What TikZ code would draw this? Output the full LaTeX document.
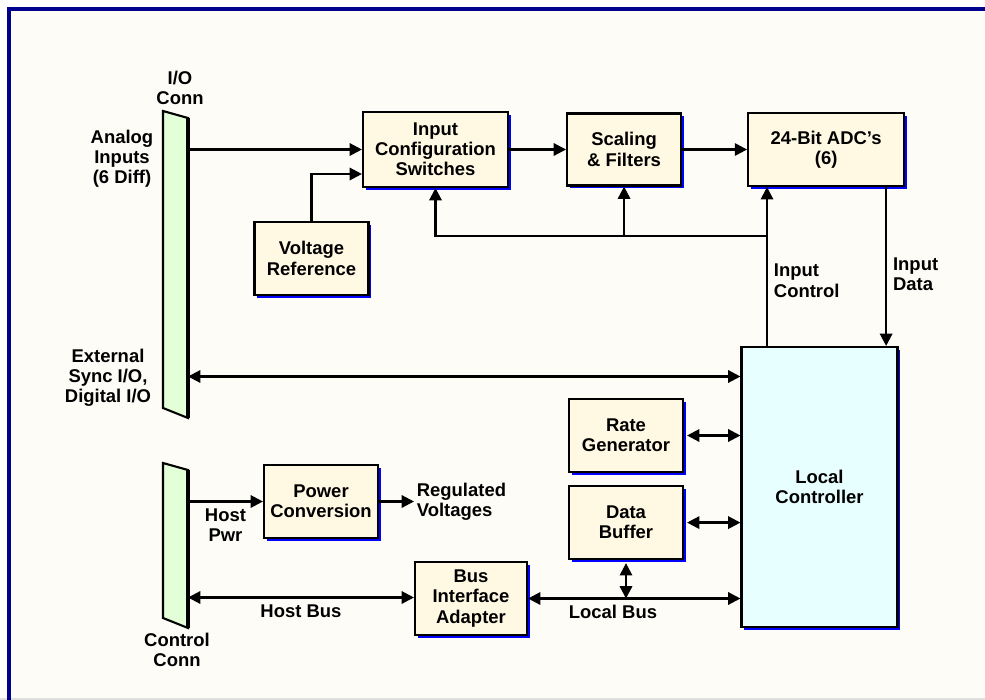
\documentclass[tikz,border=0pt]{standalone}
\usepackage{fontspec}
\setmainfont{Liberation Sans}
\usepackage{tikz}
\usetikzlibrary{shapes, arrows.meta, positioning, shadows}
\definecolor{paper}{HTML}{FDFCF6}
\definecolor{frameblue}{HTML}{00008C}
\definecolor{boxfill}{HTML}{FFF9E3}
\definecolor{connfill}{HTML}{E2FFD8}
\definecolor{ctrlfill}{HTML}{E8FFFF}
\tikzset{x=0.02cm, y=-0.02cm,     % One unit is one pixel of the drawing, y runs down
         >={Triangle[length=7pt, width=7pt]}, % Filled arrow heads
         block/.style={       % Sets the properties for each box
           draw,
           line width=1.2pt,
           fill=boxfill,
           align=center,
           minimum width=2.28cm,
           minimum height=1.46cm,
           font=\bfseries\fontsize{10.5}{11.5}\selectfont,
           drop shadow={shadow xshift=1.6pt, shadow yshift=-1.6pt, fill=blue, opacity=1}},
         lbl/.style={         % Free text beside the lines
           align=center,
           font=\bfseries\fontsize{10.5}{11.5}\selectfont},
         conn/.style={        % The two connector bars
           draw,
           line width=1.2pt,
           fill=connfill,
           line join=miter}}

\begin{document}
\begin{tikzpicture}[line width=1.25pt]
\useasboundingbox (0,0) rectangle (985,700);
\fill[white] (0,0) rectangle (985,700);
\fill[paper] (7,7) rectangle (985,698);
\draw[gray!25, line width=0.6pt] (0,699) -- (985,699);
\draw[frameblue, line width=0.08cm] (9,700) -- (9,9) -- (985,9);

% connectors
\draw[conn] (163,111) -- (188,118) -- (188,418) -- (163,408) -- cycle;
\draw[line width=1.8pt] (188,118) -- (188,418);
\draw[conn] (163,463) -- (188,470) -- (188,628) -- (163,618) -- cycle;
\draw[line width=1.8pt] (188,470) -- (188,628);
\coordinate (ain) at (188,149.5);
\coordinate (sync) at (188,376.5);
\coordinate (hpwr) at (188,501.5);
\coordinate (hbus) at (188,597.5);

\node[lbl] (ioconn) at (180,88) {I/O\\Conn};
\node[lbl] (analog) at (122,159) {Analog\\Inputs\\(6 Diff)};
\node[lbl] (extsync) at (108,378) {External\\Sync I/O,\\Digital I/O};
\node[lbl] (ctrlconn) at (177,650) {Control\\Conn};

% boxes
\node[block, minimum width=2.9cm, minimum height=1.5cm] (ics) at (435.5,149.5) {Input\\Configuration\\Switches};
\node[block, minimum height=1.44cm, right=1.14cm of ics] (sf) {Scaling\\\& Filters};
\node[block, minimum width=3.12cm, right=1.3cm of sf] (adc) {24-Bit ADC’s\\(6)};
\node[block] (vr) at (311.5,258.5) {Voltage\\Reference};
\node[block] (pc) at (321,501.5) {Power\\Conversion};
\node[block, minimum width=2.24cm] (bia) at (471,598.5) {Bus\\Interface\\Adapter};
\node[block] (rg) at (626,435.5) {Rate\\Generator};
\node[block, below=0.24cm of rg] (db) {Data\\Buffer};
\node[block, fill=ctrlfill, minimum width=3.12cm, minimum height=5.6cm, drop shadow={opacity=0}] (lc) at (819.5,487) {Local\\Controller};

% signal path
\draw[->] (ain) -- (ain -| ics.west);
\draw[->] (vr.north) |- ([yshift=-0.49cm]ics.west);
\draw[->] (ics) -- (sf);
\draw[->] (sf) -- (adc);

\draw[->] ([xshift=-1.05cm]lc.north) -- ([xshift=-1.05cm]lc.north |- adc.south)
  node[lbl, pos=0.41, right, align=left] {Input\\Control};
\draw[->] ([xshift=1.2cm]adc.south) -- ([xshift=1.2cm]adc.south |- lc.north)
  node[lbl, pos=0.55, right, align=left] {Input\\Data};
\coordinate (fb) at (767,236);
\draw[->] (fb) -| (ics.south);
\draw[->] (sf.south |- fb) -- (sf.south);

\draw[<->] (sync) -- (sync -| lc.west);
\draw[<->, shorten <=0.06cm] (rg.east) -- (rg.east -| lc.west);
\draw[<->, shorten <=0.06cm] (db.east) -- (db.east -| lc.west);
\draw[<->, shorten <=0.06cm] (db.south) -- (db.south |- bia.east);

% host side
\draw[->] (hpwr) -- (hpwr -| pc.west) node[lbl, midway, below] {Host\\Pwr};
\coordinate (reg) at (414,501.5);
\draw[->] (pc.east) -- (reg);
\node[lbl, right, align=left, inner sep=1pt] (regv) at (reg) {Regulated\\Voltages};
\draw[<->] (hbus) -- (hbus -| bia.west) node[lbl, midway, below] {Host Bus};
\draw[<->] (bia.east) -- (bia.east -| lc.west) node[lbl, pos=0.4, below] {Local Bus};

\end{tikzpicture}
\end{document}
